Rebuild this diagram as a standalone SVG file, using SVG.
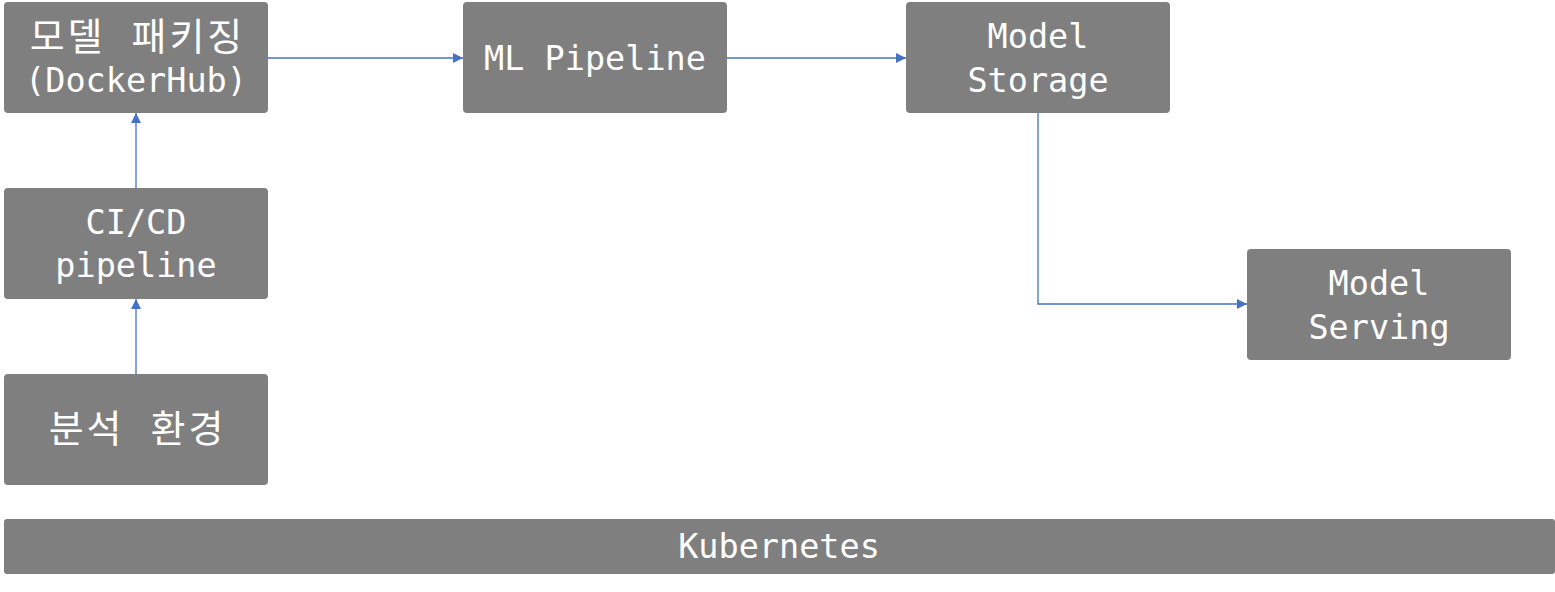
<svg xmlns="http://www.w3.org/2000/svg" width="1555" height="592" viewBox="0 0 1555 592">
<style>
.box{fill:#7f7f7f}
.t{fill:#fff;font-family:"DejaVu Sans Mono","Noto Sans CJK KR",monospace;font-size:33.5px;text-anchor:middle}
.k{font-size:38px;letter-spacing:3px}
.c{fill:none;stroke:#4472c4;stroke-width:1.3}
</style>
<defs>
<marker id="ah" viewBox="0 0 10 10" refX="10" refY="5" markerWidth="10" markerHeight="10" markerUnits="userSpaceOnUse" orient="auto">
<path d="M0,0 L10,5 L0,10 Z" fill="#4472c4"/>
</marker>
</defs>
<rect width="1555" height="592" fill="#fff"/>
<g id="connectors">
<path class="c" d="M268,58 H463" marker-end="url(#ah)"/>
<path class="c" d="M726,58 H906" marker-end="url(#ah)"/>
<path class="c" d="M1038,113 V304 H1247" marker-end="url(#ah)"/>
<path class="c" d="M136,188 V113" marker-end="url(#ah)"/>
<path class="c" d="M136,374 V299" marker-end="url(#ah)"/>
</g>
<g id="packaging">
<rect class="box" x="4" y="2" width="264" height="111" rx="4"/>
<text class="t k" x="137.5" y="50">모델 패키징</text>
<text class="t" x="136" y="92">(DockerHub)</text>
</g>
<g id="cicd">
<rect class="box" x="4" y="188" width="264" height="111" rx="4"/>
<text class="t" x="136" y="234">CI/CD</text>
<text class="t" x="136" y="277">pipeline</text>
</g>
<g id="analysis">
<rect class="box" x="4" y="374" width="264" height="111" rx="4"/>
<text class="t k" x="137.5" y="442">분석 환경</text>
</g>
<g id="mlpipeline">
<rect class="box" x="463" y="2" width="264" height="111" rx="4"/>
<text class="t" x="595" y="70">ML Pipeline</text>
</g>
<g id="storage">
<rect class="box" x="906" y="2" width="264" height="111" rx="4"/>
<text class="t" x="1038" y="48">Model</text>
<text class="t" x="1038" y="92">Storage</text>
</g>
<g id="serving">
<rect class="box" x="1247" y="249" width="264" height="111" rx="4"/>
<text class="t" x="1379" y="295">Model</text>
<text class="t" x="1379" y="339">Serving</text>
</g>
<g id="kubernetes">
<rect class="box" x="4" y="519" width="1551" height="55" rx="3"/>
<text class="t" x="779" y="558">Kubernetes</text>
</g>
</svg>
